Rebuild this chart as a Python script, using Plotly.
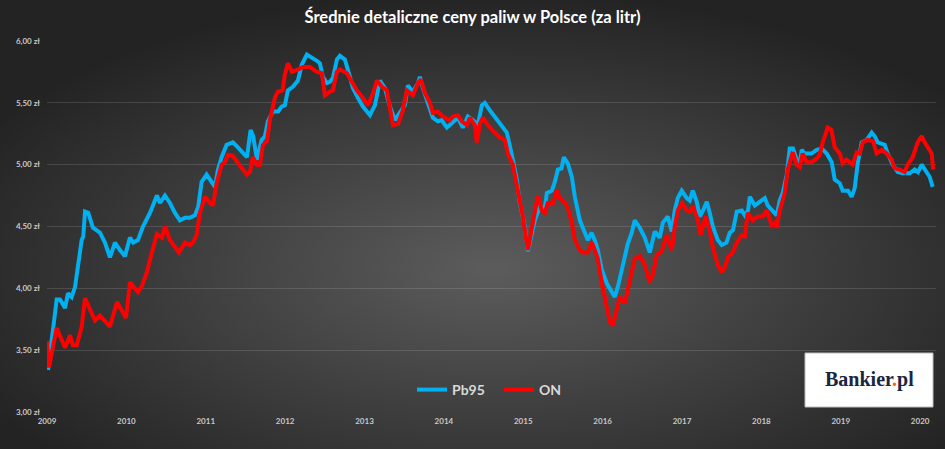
import base64
import plotly.graph_objects as go

# ceny tygodniowe (lata jako ułamek roku, zł/litr)
pb95_t = [2009.013, 2009.122, 2009.164, 2009.227, 2009.264, 2009.311, 2009.353, 2009.390, 2009.437, 2009.457,
          2009.479, 2009.520, 2009.579, 2009.667, 2009.730, 2009.793, 2009.856, 2009.919, 2009.982, 2010.045,
          2010.087, 2010.146, 2010.209, 2010.297, 2010.385, 2010.423, 2010.486, 2010.549, 2010.612, 2010.675,
          2010.738, 2010.801, 2010.864, 2010.905, 2010.948, 2011.011, 2011.053, 2011.116, 2011.154, 2011.200,
          2011.263, 2011.342, 2011.405, 2011.468, 2011.519, 2011.565, 2011.598, 2011.645, 2011.704, 2011.746,
          2011.783, 2011.846, 2011.913, 2011.956, 2011.997, 2012.035, 2012.098, 2012.161, 2012.211, 2012.274,
          2012.334, 2012.400, 2012.438, 2012.476, 2012.526, 2012.564, 2012.602, 2012.652, 2012.690, 2012.753,
          2012.816, 2012.854, 2012.917, 2012.980, 2013.068, 2013.131, 2013.194, 2013.257, 2013.320, 2013.383,
          2013.446, 2013.509, 2013.546, 2013.609, 2013.676, 2013.698, 2013.735, 2013.798, 2013.861, 2013.924,
          2013.971, 2014.038, 2014.117, 2014.176, 2014.239, 2014.302, 2014.369, 2014.428, 2014.478, 2014.516,
          2014.579, 2014.642, 2014.730, 2014.793, 2014.856, 2014.919, 2014.957, 2015.020, 2015.058, 2015.146,
          2015.209, 2015.272, 2015.297, 2015.360, 2015.398, 2015.436, 2015.482, 2015.511, 2015.561, 2015.612,
          2015.650, 2015.713, 2015.776, 2015.813, 2015.860, 2015.901, 2015.939, 2015.990, 2016.053, 2016.116,
          2016.153, 2016.191, 2016.254, 2016.317, 2016.367, 2016.405, 2016.468, 2016.531, 2016.594, 2016.657,
          2016.720, 2016.758, 2016.821, 2016.871, 2016.909, 2016.947, 2016.997, 2017.060, 2017.098, 2017.136,
          2017.186, 2017.224, 2017.265, 2017.312, 2017.350, 2017.388, 2017.451, 2017.501, 2017.560, 2017.602,
          2017.643, 2017.690, 2017.753, 2017.791, 2017.832, 2017.854, 2017.917, 2017.980, 2018.043, 2018.080,
          2018.143, 2018.194, 2018.231, 2018.269, 2018.320, 2018.357, 2018.399, 2018.446, 2018.483, 2018.508,
          2018.546, 2018.631, 2018.697, 2018.760, 2018.823, 2018.886, 2018.924, 2018.987, 2019.025, 2019.092,
          2019.138, 2019.176, 2019.214, 2019.264, 2019.327, 2019.390, 2019.428, 2019.466, 2019.554, 2019.592,
          2019.655, 2019.718, 2019.781, 2019.869, 2019.932, 2019.973, 2020.020, 2020.083, 2020.121, 2020.158]
pb95_cena = [3.34, 3.91, 3.91, 3.84, 3.96, 3.93, 4.01, 4.20, 4.39, 4.42,
             4.62, 4.61, 4.49, 4.45, 4.37, 4.25, 4.37, 4.31, 4.26, 4.41,
             4.37, 4.39, 4.50, 4.61, 4.75, 4.69, 4.75, 4.69, 4.61, 4.55,
             4.57, 4.57, 4.59, 4.66, 4.86, 4.92, 4.88, 4.82, 4.96, 5.06,
             5.16, 5.18, 5.14, 5.10, 5.06, 5.28, 5.23, 5.04, 5.20, 5.23,
             5.35, 5.43, 5.43, 5.47, 5.48, 5.60, 5.63, 5.68, 5.81, 5.89,
             5.87, 5.84, 5.82, 5.71, 5.66, 5.67, 5.70, 5.85, 5.88, 5.85,
             5.71, 5.62, 5.54, 5.47, 5.40, 5.48, 5.68, 5.62, 5.47, 5.36,
             5.42, 5.48, 5.64, 5.59, 5.66, 5.71, 5.62, 5.50, 5.38, 5.35,
             5.36, 5.30, 5.35, 5.38, 5.30, 5.39, 5.36, 5.32, 5.48, 5.50,
             5.44, 5.39, 5.32, 5.26, 5.08, 4.88, 4.69, 4.50, 4.30, 4.55,
             4.66, 4.65, 4.77, 4.79, 4.86, 4.96, 4.97, 5.06, 5.01, 4.90,
             4.74, 4.55, 4.45, 4.39, 4.45, 4.39, 4.31, 4.15, 4.04, 3.97,
             3.93, 4.01, 4.17, 4.36, 4.45, 4.55, 4.49, 4.41, 4.29, 4.46,
             4.41, 4.53, 4.58, 4.46, 4.63, 4.73, 4.79, 4.73, 4.71, 4.79,
             4.70, 4.58, 4.63, 4.70, 4.61, 4.50, 4.39, 4.35, 4.37, 4.45,
             4.47, 4.62, 4.63, 4.59, 4.63, 4.74, 4.67, 4.70, 4.73, 4.67,
             4.62, 4.59, 4.71, 4.77, 4.92, 5.13, 5.13, 5.04, 5.00, 5.12,
             5.09, 5.09, 5.12, 5.13, 5.09, 5.02, 4.88, 4.85, 4.79, 4.79,
             4.74, 4.81, 5.01, 5.18, 5.20, 5.26, 5.23, 5.18, 5.16, 5.09,
             5.00, 4.94, 4.93, 4.93, 4.96, 4.94, 5.00, 4.94, 4.90, 4.82]

on_t = [2009.000, 2009.025, 2009.122, 2009.173, 2009.227, 2009.290, 2009.327, 2009.374, 2009.437, 2009.479,
        2009.542, 2009.605, 2009.667, 2009.730, 2009.793, 2009.882, 2009.945, 2009.995, 2010.045, 2010.108,
        2010.146, 2010.196, 2010.259, 2010.322, 2010.385, 2010.448, 2010.486, 2010.549, 2010.612, 2010.662,
        2010.738, 2010.801, 2010.839, 2010.885, 2010.927, 2010.990, 2011.053, 2011.091, 2011.137, 2011.200,
        2011.242, 2011.280, 2011.342, 2011.405, 2011.468, 2011.519, 2011.557, 2011.594, 2011.645, 2011.683,
        2011.720, 2011.771, 2011.808, 2011.871, 2011.909, 2011.968, 2011.997, 2012.035, 2012.086, 2012.165,
        2012.224, 2012.312, 2012.400, 2012.463, 2012.501, 2012.564, 2012.602, 2012.652, 2012.690, 2012.778,
        2012.841, 2012.904, 2012.980, 2013.043, 2013.109, 2013.156, 2013.219, 2013.282, 2013.320, 2013.358,
        2013.424, 2013.484, 2013.534, 2013.609, 2013.676, 2013.710, 2013.761, 2013.824, 2013.861, 2013.924,
        2013.987, 2014.075, 2014.117, 2014.176, 2014.227, 2014.290, 2014.327, 2014.390, 2014.415, 2014.453,
        2014.491, 2014.554, 2014.642, 2014.705, 2014.768, 2014.806, 2014.869, 2014.932, 2014.995, 2015.058,
        2015.121, 2015.184, 2015.234, 2015.272, 2015.310, 2015.376, 2015.423, 2015.461, 2015.524, 2015.561,
        2015.612, 2015.650, 2015.713, 2015.754, 2015.813, 2015.864, 2015.901, 2015.939, 2015.990, 2016.053,
        2016.090, 2016.128, 2016.179, 2016.216, 2016.279, 2016.317, 2016.367, 2016.405, 2016.468, 2016.531,
        2016.594, 2016.636, 2016.682, 2016.745, 2016.808, 2016.871, 2016.909, 2016.947, 2016.997, 2017.060,
        2017.098, 2017.136, 2017.186, 2017.236, 2017.265, 2017.299, 2017.350, 2017.388, 2017.451, 2017.501,
        2017.539, 2017.577, 2017.640, 2017.690, 2017.753, 2017.791, 2017.828, 2017.891, 2017.954, 2018.017,
        2018.068, 2018.131, 2018.168, 2018.194, 2018.231, 2018.294, 2018.332, 2018.395, 2018.446, 2018.483,
        2018.521, 2018.571, 2018.631, 2018.697, 2018.735, 2018.773, 2018.836, 2018.883, 2018.924, 2018.987,
        2019.025, 2019.071, 2019.113, 2019.151, 2019.201, 2019.239, 2019.277, 2019.340, 2019.406, 2019.453,
        2019.516, 2019.579, 2019.642, 2019.680, 2019.743, 2019.806, 2019.843, 2019.906, 2019.969, 2020.020,
        2020.058, 2020.095, 2020.146, 2020.165]
on_cena = [3.57, 3.36, 3.68, 3.61, 3.52, 3.62, 3.54, 3.54, 3.69, 3.92,
           3.82, 3.74, 3.78, 3.73, 3.69, 3.89, 3.82, 3.76, 4.05, 4.00,
           3.97, 4.02, 4.13, 4.29, 4.44, 4.41, 4.50, 4.39, 4.33, 4.29,
           4.37, 4.35, 4.37, 4.43, 4.61, 4.74, 4.69, 4.67, 4.85, 5.00,
           5.02, 5.08, 5.07, 5.01, 4.96, 4.92, 4.94, 5.06, 5.00, 5.00,
           5.16, 5.19, 5.36, 5.54, 5.59, 5.60, 5.73, 5.82, 5.75, 5.77,
           5.79, 5.79, 5.75, 5.74, 5.56, 5.59, 5.60, 5.75, 5.77, 5.74,
           5.67, 5.60, 5.54, 5.48, 5.58, 5.68, 5.63, 5.60, 5.46, 5.32,
           5.33, 5.44, 5.60, 5.56, 5.66, 5.69, 5.58, 5.50, 5.42, 5.43,
           5.39, 5.36, 5.39, 5.40, 5.35, 5.32, 5.38, 5.32, 5.18, 5.33,
           5.38, 5.32, 5.26, 5.22, 5.20, 5.09, 5.00, 4.80, 4.58, 4.31,
           4.55, 4.75, 4.63, 4.61, 4.69, 4.69, 4.79, 4.73, 4.69, 4.65,
           4.53, 4.39, 4.31, 4.29, 4.29, 4.37, 4.31, 4.24, 4.04, 3.85,
           3.73, 3.70, 3.82, 3.93, 3.88, 3.98, 4.12, 4.24, 4.26, 4.19,
           4.05, 4.12, 4.27, 4.30, 4.43, 4.31, 4.50, 4.63, 4.69, 4.63,
           4.62, 4.66, 4.58, 4.43, 4.51, 4.58, 4.47, 4.33, 4.19, 4.13,
           4.17, 4.25, 4.29, 4.37, 4.43, 4.42, 4.61, 4.55, 4.58, 4.58,
           4.63, 4.51, 4.53, 4.49, 4.63, 4.77, 4.96, 5.10, 5.00, 4.98,
           5.09, 5.02, 5.02, 5.05, 5.08, 5.18, 5.30, 5.28, 5.14, 5.09,
           5.01, 5.04, 5.02, 5.00, 5.10, 5.09, 5.18, 5.20, 5.19, 5.09,
           5.12, 5.09, 5.04, 4.97, 4.96, 4.94, 5.00, 5.06, 5.18, 5.23,
           5.18, 5.14, 5.09, 4.96]

lata = list(range(2009, 2021))
ceny_ticks = [3.0, 3.5, 4.0, 4.5, 5.0, 5.5, 6.0]
ceny_labels = ["3,00 zł", "3,50 zł", "4,00 zł", "4,50 zł", "5,00 zł", "5,50 zł", "6,00 zł"]

W, H = 945, 449
M = dict(l=47, r=9, t=41, b=37)
FONT = "Lato"

# tlo - radialny gradient jak w Excelu
svg = (f"<svg xmlns='http://www.w3.org/2000/svg' width='{W}' height='{H}' viewBox='0 0 {W} {H}' "
       "preserveAspectRatio='none'><defs><radialGradient id='g' cx='0.52' cy='0.6' r='0.62'>"
       "<stop offset='0' stop-color='#5c5c5c'/><stop offset='1' stop-color='#232323'/>"
       f"</radialGradient></defs><rect width='{W}' height='{H}' fill='url(#g)'/></svg>")
bg_src = "data:image/svg+xml;base64," + base64.b64encode(svg.encode()).decode()

pw = W - M["l"] - M["r"]
ph = H - M["t"] - M["b"]

fig = go.Figure()
fig.add_trace(go.Scatter(x=pb95_t, y=pb95_cena, name="Pb95", mode="lines",
                         line=dict(color="#00b0f0", width=4)))
fig.add_trace(go.Scatter(x=on_t, y=on_cena, name="ON", mode="lines",
                         line=dict(color="#ff0000", width=4)))

fig.update_layout(
    width=W, height=H,
    margin=M,
    paper_bgcolor="#2a2a2a",
    plot_bgcolor="rgba(0,0,0,0)",
    title=dict(text="Średnie detaliczne ceny paliw w Polsce (za litr)",
               x=0.5, xanchor="center", y=1 - 17 / H, yanchor="middle",
               font=dict(family=FONT, size=16.5, color="#ffffff", weight="bold")),
    showlegend=True,
    legend=dict(orientation="h", x=(412 - M["l"]) / pw, y=(412 - 390) / ph,
                xanchor="left", yanchor="middle", bgcolor="rgba(0,0,0,0)",
                entrywidth=42, entrywidthmode="pixels", itemwidth=30,
                font=dict(family=FONT, size=14, color="#d9d9d9", weight="bold")),
    xaxis=dict(range=[2009, 2020.2], tickmode="array", tickvals=lata,
               ticktext=[str(r) for r in lata], showgrid=False, zeroline=False,
               showline=False, ticks="", ticklabelstandoff=3,
               tickfont=dict(family=FONT, size=8, color="#c8c8c8", weight="bold")),
    yaxis=dict(range=[3, 6], tickmode="array", tickvals=ceny_ticks,
               ticktext=ceny_labels, showgrid=True,
               gridcolor="rgba(255,255,255,0.13)", gridwidth=1, zeroline=False,
               showline=False, ticks="", ticklabelstandoff=6,
               tickfont=dict(family=FONT, size=8, color="#c8c8c8", weight="bold")),
    images=[dict(source=bg_src, xref="paper", yref="paper",
                 x=-M["l"] / pw, y=1 + M["t"] / ph, sizex=W / pw, sizey=H / ph,
                 xanchor="left", yanchor="top", sizing="stretch", layer="below")],
    shapes=[dict(type="rect", xref="paper", yref="paper",
                 x0=(805 - M["l"]) / pw, x1=(933 - M["l"]) / pw,
                 y0=(412 - 407) / ph, y1=(412 - 353) / ph,
                 fillcolor="#ffffff", line=dict(color="#bdbdbd", width=1), layer="above")],
    annotations=[dict(text="Bankier<span style='color:#f26522'>.</span>pl",
                      xref="paper", yref="paper", x=(869 - M["l"]) / pw, y=(412 - 379) / ph,
                      xanchor="center", yanchor="middle", showarrow=False,
                      font=dict(family="Liberation Serif", size=20, color="#1c2540", weight="bold"))],
)

# strona bez marginesu body, zeby wykres zaczynal sie w rogu okna
fig.write_html("out.html", config={"displayModeBar": False},
               post_script="document.body.style.margin='0';")
